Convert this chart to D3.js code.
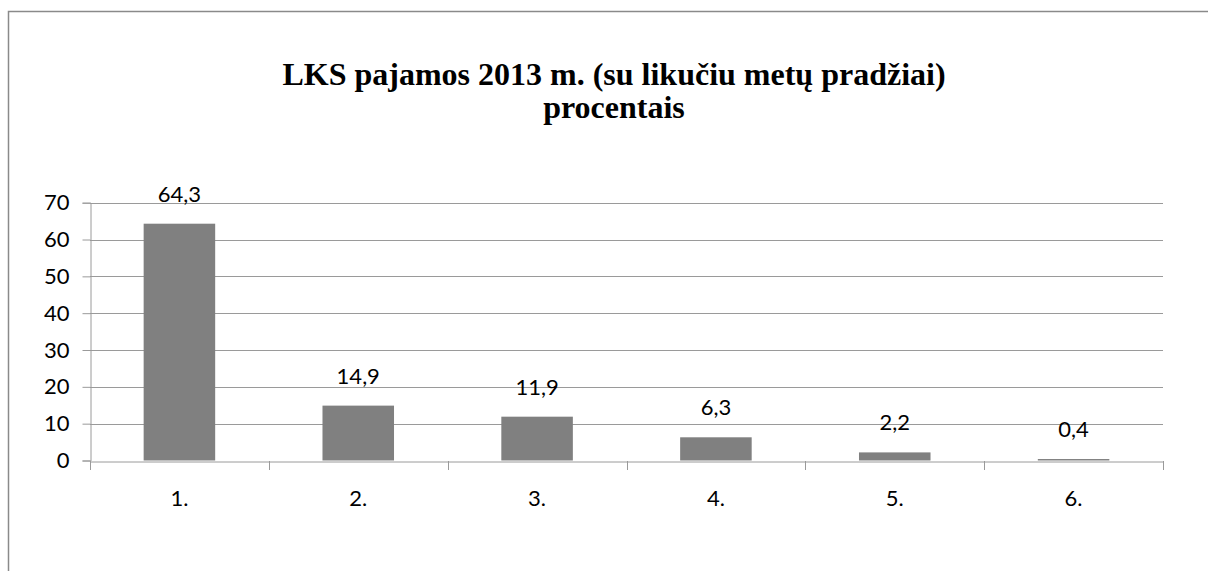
<!DOCTYPE html>
<html>
<head>
<meta charset="utf-8">
<script src="https://cdn.jsdelivr.net/npm/d3@7"></script>
<style>
  html, body { margin: 0; padding: 0; background: #fff; }
  svg { display: block; }
  text.title, text.title tspan { font-family: "Times New Roman", "Liberation Serif", "DejaVu Serif", serif; font-weight: bold; }
</style>
</head>
<body>
<svg id="chart" width="1208" height="571"></svg>
<script>
const categories = ["1.", "2.", "3.", "4.", "5.", "6."];
const values = [64.3, 14.9, 11.9, 6.3, 2.2, 0.4];
const valueLabels = ["64,3", "14,9", "11,9", "6,3", "2,2", "0,4"];
const yTicks = [0, 10, 20, 30, 40, 50, 60, 70];
const titleLines = ["LKS pajamos 2013 m. (su likučiu metų pradžiai)", "procentais"];

const svg = d3.select("#chart");
const plot = { left: 90, right: 1163, top: 202.7, bottom: 460.5 };
const labelFont = "Lato, 'Open Sans', sans-serif";

// outer chart border
svg.append("rect")
  .attr("x", 8.5).attr("y", 11.5)
  .attr("width", 1400).attr("height", 700)
  .attr("fill", "#fff").attr("stroke", "#8a8a8a").attr("stroke-width", 1.5);

// title
const title = svg.append("text")
  .attr("class", "title")
  .attr("text-anchor", "middle")
  .attr("font-family", "'Times New Roman', 'Liberation Serif', serif")
  .attr("font-weight", "bold")
  .style("font-size", "32px")
  .attr("fill", "#000");
title.selectAll("tspan").data(titleLines).join("tspan")
  .attr("x", 614)
  .attr("y", (d, i) => 85 + i * 33)
  .text(d => d);

const xb = d3.scaleBand().domain(categories).range([plot.left, plot.right]);
const y = d3.scaleLinear().domain([0, 70]).range([plot.bottom, plot.top]);

// gridlines
svg.append("g").selectAll("line").data(yTicks.filter(t => t > 0)).join("line")
  .attr("x1", plot.left).attr("x2", plot.right)
  .attr("y1", d => Math.round(y(d)) + 0.5).attr("y2", d => Math.round(y(d)) + 0.5)
  .attr("stroke", "#9a9a9a").attr("stroke-width", 1);

// y axis
const yAxis = svg.append("g")
  .attr("transform", `translate(${plot.left + 0.5},0)`)
  .call(d3.axisLeft(y).tickValues(yTicks).tickSize(8).tickPadding(13).tickFormat(d3.format("d")));
yAxis.select(".domain").attr("stroke", "#9a9a9a");
yAxis.selectAll(".tick line").attr("stroke", "#9a9a9a");
yAxis.selectAll(".tick text").attr("font-family", labelFont).attr("font-size", 22).attr("fill", "#000");

// x axis
const xAxis = svg.append("g")
  .attr("transform", `translate(0,${Math.round(plot.bottom) + 0.5})`)
  .call(d3.axisBottom(xb).tickSize(0).tickPadding(29));
xAxis.select(".domain").attr("stroke", "#9a9a9a");
xAxis.selectAll(".tick text").attr("font-family", labelFont).attr("font-size", 22).attr("fill", "#000");
// tick marks at category boundaries
const bounds = categories.map(c => xb(c)).concat([plot.right]);
svg.append("g").selectAll("line").data(bounds).join("line")
  .attr("x1", d => Math.round(d) + 0.5).attr("x2", d => Math.round(d) + 0.5)
  .attr("y1", Math.round(plot.bottom)).attr("y2", Math.round(plot.bottom) + 9)
  .attr("stroke", "#9a9a9a");

// bars
svg.append("g").selectAll("rect").data(values).join("rect")
  .attr("x", (d, i) => xb(categories[i]) + xb.bandwidth() / 2 - xb.bandwidth() * 0.2)
  .attr("width", xb.bandwidth() * 0.4)
  .attr("y", d => y(d))
  .attr("height", d => y(0) - y(d))
  .attr("fill", "#808080");

// data labels
svg.append("g").selectAll("text").data(values).join("text")
  .attr("x", (d, i) => xb(categories[i]) + xb.bandwidth() / 2)
  .attr("y", d => y(d) - 22)
  .attr("text-anchor", "middle")
  .attr("font-family", labelFont).attr("font-size", 22).attr("fill", "#000")
  .text((d, i) => valueLabels[i]);
</script>
</body>
</html>
